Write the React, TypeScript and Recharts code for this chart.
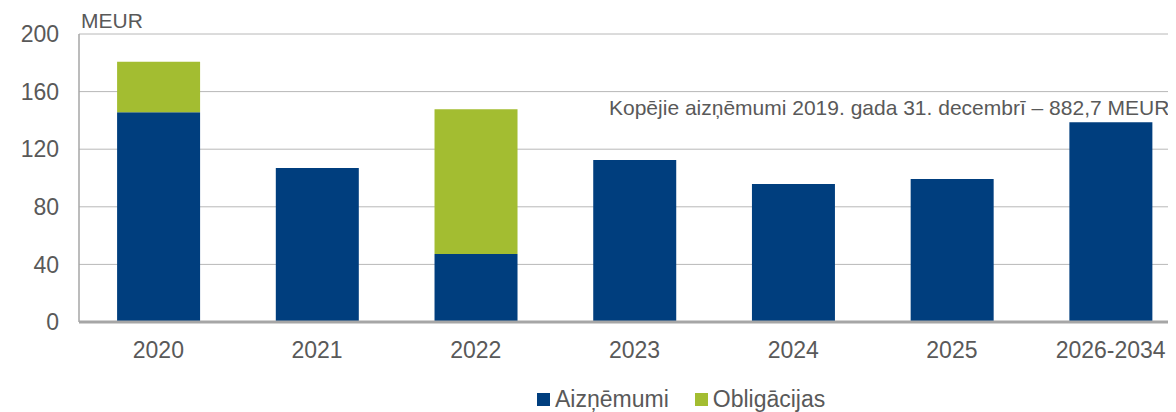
import React from 'react';
import { BarChart, Bar, XAxis, YAxis, CartesianGrid, Legend } from 'recharts';

const categories = ['2020', '2021', '2022', '2023', '2024', '2025', '2026-2034'];
const loans = [145.6, 106.9, 47.2, 112.5, 95.8, 99.3, 138.7];
const bonds = [35.2, 0, 100.5, 0, 0, 0, 0];
const yTicks = [0, 40, 80, 120, 160, 200];
const seriesNames = ['Aizņēmumi', 'Obligācijas'];
const unitLabel = 'MEUR';
const note = 'Kopējie aizņēmumi 2019. gada 31. decembrī – 882,7 MEUR';

const BLUE = '#003e7e';
const GREEN = '#a3bd31';
const TEXT = '#595959';
const FONT = '"Liberation Sans", Arial, sans-serif';

const data = categories.map((c, i) => ({ category: c, loans: loans[i], bonds: bonds[i] }));

const renderLegend = () => (
  <div style={{ display: 'flex', alignItems: 'center', fontFamily: FONT, fontSize: 23, color: TEXT, whiteSpace: 'nowrap' }}>
    <span style={{ display: 'inline-block', width: 13, height: 13, background: BLUE, marginRight: 5 }} />
    <span style={{ marginRight: 26 }}>{seriesNames[0]}</span>
    <span style={{ display: 'inline-block', width: 13, height: 13, background: GREEN, marginRight: 5 }} />
    <span>{seriesNames[1]}</span>
  </div>
);

export default function App() {
  return (
    <div style={{ width: 1168, height: 404, overflow: 'hidden', position: 'relative' }}>
      <BarChart
        width={1200}
        height={404}
        data={data}
        margin={{ top: 26, right: 18, left: 0, bottom: 50 }}
        barCategoryGap="24%"
      >
        <CartesianGrid vertical={false} stroke="#b8b8b8" strokeWidth={1} />
        <XAxis
          dataKey="category"
          axisLine={{ stroke: '#a6a6a6', strokeWidth: 3 }}
          tickLine={false}
          tickSize={0}
          tickMargin={20}
          height={40}
          interval={0}
          tick={{ fill: TEXT, fontSize: 23, fontFamily: FONT }}
        />
        <YAxis
          domain={[0, 200]}
          ticks={yTicks}
          width={71}
          axisLine={{ stroke: '#a6a6a6', strokeWidth: 1.5 }}
          tickLine={false}
          tickSize={0}
          tickMargin={20}
          interval={0}
          tick={{ fill: TEXT, fontSize: 23, fontFamily: FONT }}
        />
        <Bar dataKey="loans" name={seriesNames[0]} stackId="a" fill={BLUE} isAnimationActive={false} />
        <Bar dataKey="bonds" name={seriesNames[1]} stackId="a" fill={GREEN} isAnimationActive={false} />
        <Legend
          verticalAlign="middle"
          align="center"
          layout="horizontal"
          content={renderLegend}
          wrapperStyle={{ position: 'absolute', top: 378, left: 529, width: 'auto', height: 'auto' }}
        />
        <text x={73} y={20} fill={TEXT} fontSize={21} fontFamily={FONT}>{unitLabel}</text>
        <text x={601} y={107} fill={TEXT} fontSize={21} fontFamily={FONT}>{note}</text>
      </BarChart>
    </div>
  );
}
